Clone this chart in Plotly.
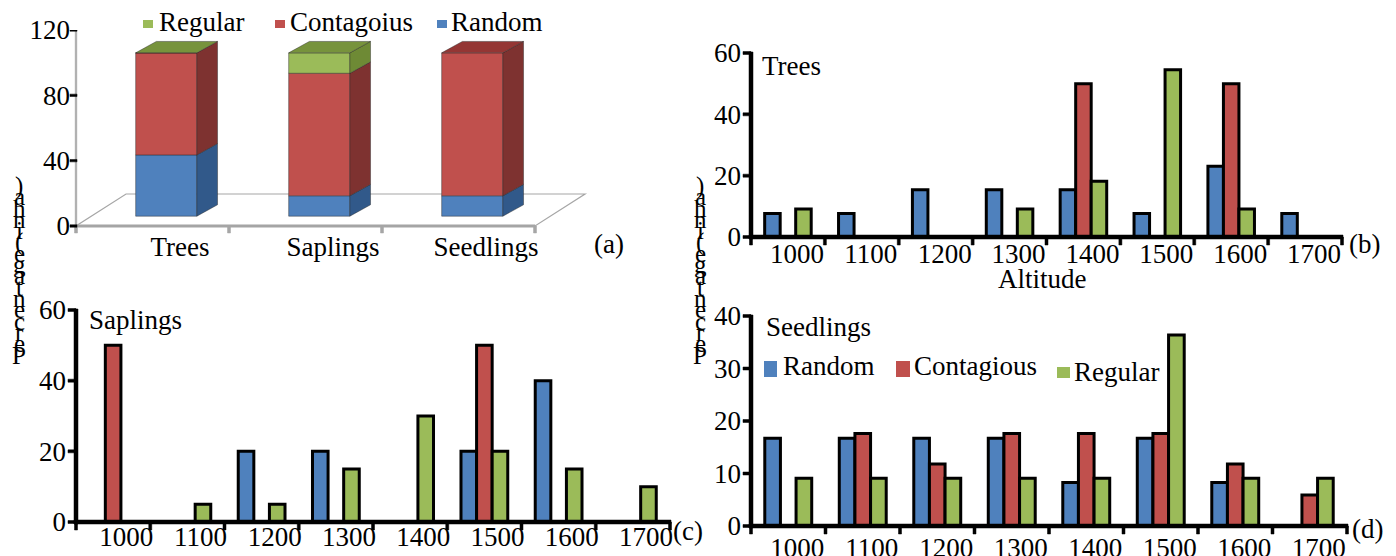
import plotly.graph_objects as go

W, H = 1396, 556
OFF = 8  # page offset of the figure inside the window
PAD = 12  # px of room kept inside each plot area for axis lines and ticks
FONT = "Liberation Serif"
FS = 27

# ---------------- data ----------------
cats_a = ["Trees", "Saplings", "Seedlings"]
random_a = [37.5, 12.5, 12.5]
contagious_a = [62.5, 75.0, 87.5]
regular_a = [0.0, 12.5, None]

altitudes = ["1000", "1100", "1200", "1300", "1400", "1500", "1600", "1700"]

trees_random = [7.7, 7.7, 15.4, 15.4, 15.4, 7.7, 23.1, 7.7]
trees_contagious = [0, 0, 0, 0, 50, 0, 50, 0]
trees_regular = [9.1, 0, 0, 9.1, 18.2, 54.5, 9.1, 0]

sap_random = [0, 0, 20, 20, 0, 20, 40, 0]
sap_contagious = [50, 0, 0, 0, 0, 50, 0, 0]
sap_regular = [0, 5, 5, 15, 30, 20, 15, 10]

seed_random = [16.7, 16.7, 16.7, 16.7, 8.3, 16.7, 8.3, 0]
seed_contagious = [0, 17.6, 11.8, 17.6, 17.6, 17.6, 11.8, 5.9]
seed_regular = [9.1, 9.1, 9.1, 9.1, 9.1, 36.4, 9.1, 9.1]

ticks_a = [0, 40, 80, 120]
ticks_bc = [0, 20, 40, 60]
ticks_d = [0, 10, 20, 30, 40]

# ---------------- styles ----------------
BLUE, RED, GREEN = "#4F81BD", "#C0504D", "#9BBB59"
SIDE = {"Random": "#31598A", "Contagious": "#7E3230", "Regular": "#6E8A35"}
TOP = {"Random": "#3E6BA3", "Contagious": "#943634", "Regular": "#77933C"}
FRONT = {"Random": BLUE, "Contagious": RED, "Regular": GREEN}


def fx(px):
    return (px - OFF) / W


def fy(py):
    return 1 - (py - OFF) / H


fig = go.Figure()
shapes = []


def prect(x0, y0, x1, y1, col):
    shapes.append(dict(type="rect", xref="paper", yref="paper",
                       x0=fx(x0), x1=fx(x1), y0=fy(y1), y1=fy(y0),
                       fillcolor=col, line=dict(width=0)))


def solid(rects, xa, ya, color):
    """Filled rectangles (axis lines / tick marks) given in axis units."""
    xs, ys = [], []
    for x0, x1, y0, y1 in rects:
        xs += [x0, x1, x1, x0, x0, None]
        ys += [y0, y0, y1, y1, y0, None]
    fig.add_trace(go.Scatter(x=xs, y=ys, mode="lines", fill="toself", fillcolor=color,
                             line=dict(color=color, width=0.5), xaxis=xa, yaxis=ya,
                             showlegend=False, hoverinfo="skip"))


# ---------------- panel (a): pseudo-3D stacked bars ----------------
OX, BW, OY, DX, DY = 0.09, 0.40, 6.0, 0.135, 7.0
FLOOR_DX, FLOOR_DY = 0.327, 19.6
A_L, A_R, A_B, A_T, A_MAX = 76, 600, 226, 30, 120
n_a = len(cats_a)
a_pxx = (535 - A_L) / n_a             # px per category unit
a_pxy = (A_B - A_T) / A_MAX           # px per value unit
A_XMAX = -0.5 + (A_R - A_L) / a_pxx
A_XMIN = -0.5 - PAD / a_pxx
A_YMIN = -PAD / a_pxy

# floor (below the bars)
shapes.append(dict(type="path", xref="x", yref="y", layer="below",
                   path=f"M -0.5,0 L {n_a - 0.5},0 L {n_a - 0.5 + FLOOR_DX},{FLOOR_DY} "
                        f"L {-0.5 + FLOOR_DX},{FLOOR_DY} Z",
                   fillcolor="white", line=dict(color="#A6A6A6", width=1.2)))

series_a = [("Random", random_a), ("Contagious", contagious_a), ("Regular", regular_a)]
cum = [0.0] * n_a
side_polys = {k: ([], []) for k, _ in series_a}
top_owner = [None] * n_a
for name, vals in series_a:
    bases, ys, xs = [], [], []
    for i, v in enumerate(vals):
        if v is None:
            continue
        b = cum[i]
        t = b + v
        xs.append(i + OX)
        ys.append(v)
        bases.append(OY + b)
        if v > 0:
            x1 = i + OX + BW / 2
            px, py = side_polys[name]
            px += [x1, x1 + DX, x1 + DX, x1, x1, None]
            py += [OY + b, OY + b + DY, OY + t + DY, OY + t, OY + b, None]
        cum[i] = t
        top_owner[i] = name
    fig.add_trace(go.Bar(
        x=xs, y=ys, base=bases, width=BW, offsetgroup="a",
        marker=dict(color=FRONT[name], line=dict(color="rgba(40,40,40,0.55)", width=0.8)),
        xaxis="x", yaxis="y", showlegend=False, hoverinfo="skip"))

for name, _ in series_a:
    px, py = side_polys[name]
    if px:
        fig.add_trace(go.Scatter(
            x=px, y=py, mode="lines", fill="toself", fillcolor=SIDE[name],
            line=dict(color="rgba(40,40,40,0.55)", width=0.8),
            xaxis="x", yaxis="y", showlegend=False, hoverinfo="skip"))

for name, _ in series_a:
    tx, ty = [], []
    for i in range(n_a):
        if top_owner[i] != name:
            continue
        T = OY + cum[i]
        x0 = i + OX - BW / 2
        x1 = i + OX + BW / 2
        tx += [x0, x1, x1 + DX, x0 + DX, x0, None]
        ty += [T, T, T + DY, T + DY, T, None]
    if tx:
        fig.add_trace(go.Scatter(
            x=tx, y=ty, mode="lines", fill="toself", fillcolor=TOP[name],
            line=dict(color="rgba(40,40,40,0.55)", width=0.8),
            xaxis="x", yaxis="y", showlegend=False, hoverinfo="skip"))

# axis furniture of (a)
ax_, ay_ = 1 / a_pxx, 1 / a_pxy
gray_rects = [(-0.5, n_a - 0.5, -1.2 * ay_, 1.2 * ay_),          # floor front edge
              (-0.5 - 0.8 * ax_, -0.5 + 0.8 * ax_, 0, A_MAX)]     # value axis
gray_rects += [(k - 0.5 - 1.5 * ax_, k - 0.5 + 1.5 * ax_, -7 * ay_, 0) for k in range(n_a + 1)]
solid(gray_rects, "x", "y", "#A6A6A6")
solid([(-0.5 - 6 * ax_, -0.5 + 1 * ax_, v - 1.2 * ay_, v + 1.2 * ay_) for v in ticks_a],
      "x", "y", "black")

# ---------------- panels (b), (c), (d) ----------------
n_alt = len(altitudes)
xpos = list(range(n_alt))


def add_panel(xa, ya, p, ymax, yticks, rnd, con, reg):
    for name, vals, col in [("Random", rnd, BLUE), ("Contagious", con, RED), ("Regular", reg, GREEN)]:
        fig.add_trace(go.Bar(
            x=xpos, y=vals, name=name, xaxis=xa, yaxis=ya,
            marker=dict(color=col, line=dict(color="black", width=3)),
            showlegend=False, hoverinfo="skip"))
    xl, xr, yb, yt = p
    pxx = (xr - xl) / n_alt
    pxy = (yb - yt) / ymax
    ux, uy = 1 / pxx, 1 / pxy
    rects = [(-0.5 - 2 * ux, n_alt - 0.5 + 1 * ux, -2 * uy, 2 * uy),     # x axis line
             (-0.5 - 2 * ux, -0.5 + 2 * ux, -2 * uy, ymax + 1 * uy)]     # y axis line
    rects += [(k - 0.5 - 1.5 * ux, k - 0.5 + 1.5 * ux, -8 * uy, 0) for k in range(n_alt + 1)]
    rects += [(-0.5 - 8 * ux, -0.5, v - 1.5 * uy, v + 1.5 * uy) for v in yticks]
    solid(rects, xa, ya, "black")
    return pxx, pxy


PB = (751, 1342, 237, 53)
PC = (76, 670, 522, 310)
PD = (751, 1347, 526, 316)
sb = add_panel("x2", "y2", PB, 60, ticks_bc, trees_random, trees_contagious, trees_regular)
sc = add_panel("x3", "y3", PC, 60, ticks_bc, sap_random, sap_contagious, sap_regular)
sd = add_panel("x4", "y4", PD, 40, ticks_d, seed_random, seed_contagious, seed_regular)

tickfont = dict(family=FONT, size=FS, color="black")


def alt_xaxis(p, s, anchor, shift, standoff):
    return dict(domain=[fx(p[0] - PAD), fx(p[1] + 4)], anchor=anchor,
                range=[-0.5 - PAD / s[0], n_alt - 0.5 + 4 / s[0]],
                tickvals=xpos, ticktext=altitudes, ticks="", showline=False,
                showgrid=False, zeroline=False, tickfont=tickfont,
                ticklabelshift=shift, ticklabelstandoff=standoff, automargin=False)


def val_yaxis(p, s, anchor, ymax, tv):
    return dict(domain=[fy(p[2] + PAD), fy(p[3] - 4)], anchor=anchor,
                range=[-PAD / s[1], ymax + 4 / s[1]], tickvals=tv, ticks="",
                showline=False, showgrid=False, zeroline=False, tickfont=tickfont,
                ticklabelstandoff=-PAD + 9, automargin=False)


layout = dict(
    width=W, height=H, margin=dict(l=0, r=0, t=0, b=0, pad=0), autosize=False,
    paper_bgcolor="white", plot_bgcolor="white", showlegend=False,
    barmode="group", bargap=0.37, bargroupgap=0,
    font=dict(family=FONT, size=FS, color="black"),
    xaxis=dict(domain=[fx(A_L - PAD), fx(A_R)], anchor="y", range=[A_XMIN, A_XMAX],
               tickvals=[i + 0.18 for i in range(n_a)], ticktext=cats_a, ticks="",
               showline=False, showgrid=False, zeroline=False, tickfont=tickfont,
               ticklabelstandoff=-PAD + 2, automargin=False),
    yaxis=dict(domain=[fy(A_B + PAD), fy(A_T)], anchor="x", range=[A_YMIN, A_MAX],
               tickvals=ticks_a, ticks="", showline=False, showgrid=False,
               zeroline=False, tickfont=tickfont, ticklabelstandoff=-PAD + 5,
               automargin=False),
    xaxis2=alt_xaxis(PB, sb, "y2", 9, -PAD - 2),
    yaxis2=val_yaxis(PB, sb, "x2", 60, ticks_bc),
    xaxis3=alt_xaxis(PC, sc, "y3", 13, -PAD - 4),
    yaxis3=val_yaxis(PC, sc, "x3", 60, ticks_bc),
    xaxis4=alt_xaxis(PD, sd, "y4", 9, -PAD + 3),
    yaxis4=val_yaxis(PD, sd, "x4", 40, ticks_d),
)

ann = []


def txt(s, x, y, xanchor="left", size=FS):
    ann.append(dict(text=s, x=fx(x), y=fy(y), xref="paper", yref="paper",
                    xanchor=xanchor, yanchor="middle", showarrow=False,
                    font=dict(family=FONT, size=size, color="black")))


# legend (a)
prect(143, 20, 153, 28, GREEN); txt("Regular", 157, 22)
prect(275, 20, 285, 28, RED); txt("Contagoius", 288, 22)
prect(437, 20, 447, 28, BLUE); txt("Random", 449, 22)

# legend (d)
prect(764, 361, 777, 377, BLUE); txt("Random", 781, 366)
prect(896, 361, 910, 377, RED); txt("Contagious", 912, 366)
prect(1057, 367, 1070, 378, GREEN); txt("Regular", 1072, 372)

# panel titles / labels
txt("Trees", 760, 66)
txt("Saplings", 87, 320)
txt("Seedlings", 764, 327)
txt("Altitude", 1042, 279, xanchor="center")
txt("(a)", 592, 244)
txt("(b)", 1347, 244)
txt("(c)", 671, 531)
txt("(d)", 1350, 529)

# stacked (garbled) y-axis titles
letters = list("Percentage(inha)")
for cx in (19, 700):
    for k, ch in enumerate(letters):
        txt(ch, cx, 355 - k * 11.3, xanchor="center", size=25)

layout["annotations"] = ann
layout["shapes"] = shapes
fig.update_layout(**layout)
fig.write_html("out.html")
